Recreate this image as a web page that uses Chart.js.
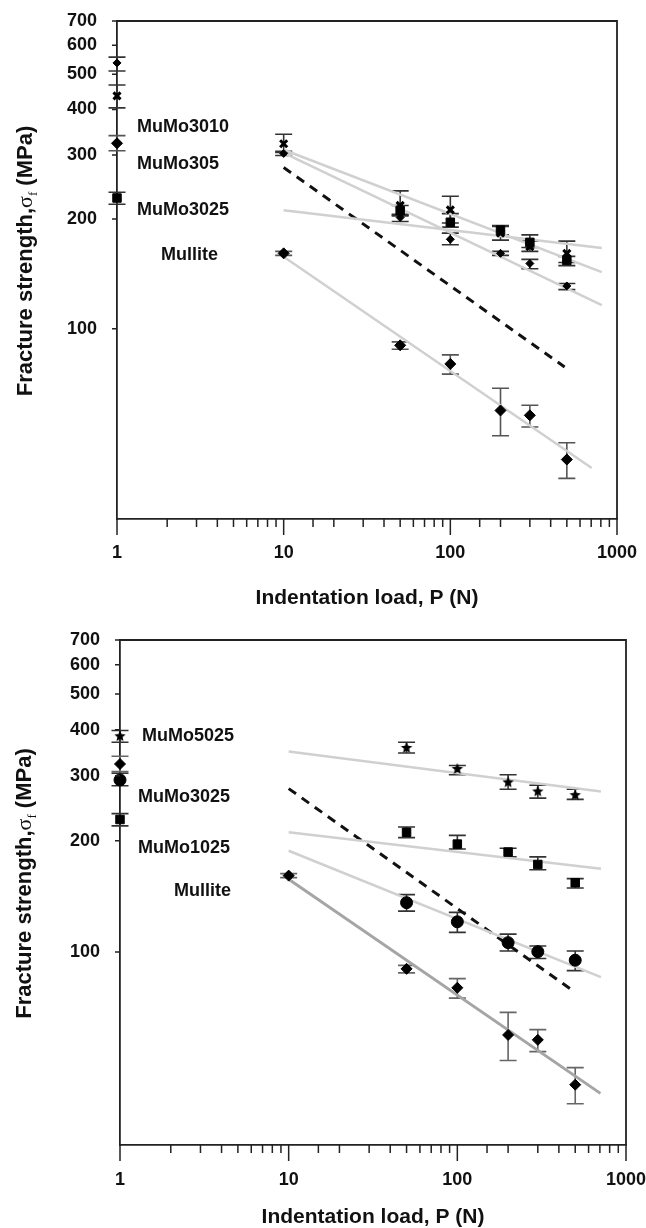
<!DOCTYPE html>
<html>
<head>
<meta charset="utf-8">
<script src="https://cdn.jsdelivr.net/npm/chart.js@4"></script>
<style>
  body { margin: 0; background: #fff; }
  canvas { display: block; }
</style>
</head>
<body>
<canvas id="topChart" width="646" height="620"></canvas>
<canvas id="bottomChart" width="646" height="608"></canvas>
<script>
// indentation loads (N), shared by every series
const loads = [1, 10, 50, 100, 200, 300, 500];

// Mullite (both panels)
const mullite   = [323, 161, 90, 80, 59.6, 57.8, 43.7];
const mulliteHi = [339, 163, 92, 84.7, 68.6, 61.6, 48.6];
const mulliteLo = [308, 159, 87.8, 75, 50.8, 53.7, 38.8];

// MuMo3025 (both panels)
const mumo3025   = [228.5, null, 211, 196, 186.5, 172.6, 154];
const mumo3025Hi = [237, null, 218, 207, 191, 181, 158];
const mumo3025Lo = [219.6, null, 204, 190, 181, 167, 149];

// top panel only
const mumo3010   = [436, 322, 218, 212, 183, 168, 161];
const mumo3010Hi = [467, 342, 239, 231, 192, 174, 174];
const mumo3010Lo = [404, 305, 205, 195, 175, 163, 152];

const mumo305   = [537, 303, 202, 176, 161, 151, 131];
const mumo305Hi = [557, 307, 206, 183, 163, 155, 133];
const mumo305Lo = [510, 299, 197, 170, 159, 146, 128];

// bottom panel only
const mumo5025   = [384, null, 357, 313, 288, 272, 266];
const mumo5025Hi = [398, null, 370, 320, 302, 283, 276];
const mumo5025Lo = [370, null, 346, 302, 276, 261, 259];

const mumo1025   = [292.5, null, 136, 120.7, 106, 100.2, 95];
const mumo1025Hi = [305, null, 143, 128, 111.8, 103.8, 100.6];
const mumo1025Lo = [282, null, 129, 113, 100.6, 96, 89];

// fitted power-law lines (end points)
const fitLoadsTop = [10, 810];
const fit3010 = [310, 143];
const fit305 = [304, 116];
const fit3025Top = [211.6, 166.6];
const fitLoadsBottom = [10, 710];
const fit5025 = [349, 272];
const fit3025 = [211, 168];
const fit1025 = [188, 85.5];
const fitLoadsMullite = [10, 705];
const fitMullite = [157.5, 41.4];
const dashLoads = [10, 485];
const dashLine = [277, 78.5];

// axis ticks and labels
const xTickLabels = [1, 10, 100, 1000];
const yTickLabels = [100, 200, 300, 400, 500, 600, 700];
const topLabels = ['MuMo3010', 'MuMo305', 'MuMo3025', 'Mullite'];
const bottomLabels = ['MuMo5025', 'MuMo3025', 'MuMo1025', 'Mullite'];

const FONT = '"Liberation Sans", Arial, Helvetica, sans-serif';

function toXY(xs, ys) {
  return xs.map((x, i) => ({ x: x, y: ys[i] })).filter(p => p.y != null);
}

// filled five point star used as a marker
function starMarker(r) {
  const c = document.createElement('canvas');
  c.width = c.height = r * 2 + 2;
  const g = c.getContext('2d');
  g.fillStyle = '#000';
  g.beginPath();
  for (let i = 0; i < 10; i++) {
    const rad = i % 2 ? r * 0.45 : r;
    const a = -Math.PI / 2 + i * Math.PI / 5;
    g.lineTo(c.width / 2 + rad * Math.cos(a), c.height / 2 + rad * Math.sin(a));
  }
  g.closePath();
  g.fill();
  return c;
}

function pointSet(values, hi, lo, style, radius, extra) {
  return Object.assign({
    data: toXY(loads, values),
    errHi: hi,
    errLo: lo,
    barColor: '#333',
    pointStyle: style,
    pointRadius: radius,
    backgroundColor: '#000',
    borderColor: '#000',
    borderWidth: 1,
    showLine: false,
    clip: false,
    order: 0
  }, extra || {});
}

function lineSet(xs, ys, color, width, dash) {
  return {
    data: toXY(xs, ys),
    showLine: true,
    pointRadius: 0,
    borderColor: color,
    borderWidth: width,
    borderDash: dash || [],
    fill: false,
    order: 1
  };
}

// error bars under the markers
const errorBars = {
  id: 'errorBars',
  beforeDatasetsDraw(chart) {
    const { ctx, scales: { x, y } } = chart;
    ctx.save();
    chart.data.datasets.forEach(ds => {
      if (!ds.errHi) return;
      ctx.strokeStyle = ds.barColor;
      ctx.lineWidth = 1.6;
      loads.forEach((p, i) => {
        if (ds.errHi[i] == null) return;
        const px = x.getPixelForValue(p);
        const top = y.getPixelForValue(ds.errHi[i]);
        const bot = y.getPixelForValue(ds.errLo[i]);
        ctx.beginPath();
        ctx.moveTo(px, top); ctx.lineTo(px, bot);
        ctx.moveTo(px - 8.5, top); ctx.lineTo(px + 8.5, top);
        ctx.moveTo(px - 8.5, bot); ctx.lineTo(px + 8.5, bot);
        ctx.stroke();
      });
    });
    ctx.restore();
  }
};

// frame, tick marks, y title and series names
const panelDecor = {
  id: 'panelDecor',
  afterDraw(chart, args, opts) {
    const { ctx, chartArea: a, scales: { x, y } } = chart;
    ctx.save();
    ctx.strokeStyle = '#222';
    ctx.lineWidth = 1.8;
    ctx.beginPath();
    ctx.moveTo(a.left, a.top);
    ctx.lineTo(a.right, a.top);
    ctx.lineTo(a.right, a.bottom);
    ctx.stroke();

    ctx.lineWidth = 1.5;
    ctx.beginPath();
    x.ticks.forEach(t => {
      const px = x.getPixelForValue(t.value);
      const len = xTickLabels.includes(t.value) ? 16 : 8;
      ctx.moveTo(px, a.bottom);
      ctx.lineTo(px, a.bottom + len);
    });
    yTickLabels.forEach(v => {
      const py = y.getPixelForValue(v);
      ctx.moveTo(a.left - 5, py);
      ctx.lineTo(a.left, py);
    });
    ctx.stroke();

    // y axis title with subscript
    const parts = [
      { t: 'Fracture strength,', f: 'bold 22px ' + FONT, dy: 8 },
      { t: '\u03c3', f: '22px "Liberation Serif", serif', dy: 8 },
      { t: 'f', f: '13px "Liberation Serif", serif', dy: 13 },
      { t: ' (MPa)', f: 'bold 22px ' + FONT, dy: 8 }
    ];
    let total = 0;
    parts.forEach(p => { ctx.font = p.f; p.w = ctx.measureText(p.t).width; total += p.w; });
    ctx.translate(opts.titleX, (a.top + a.bottom) / 2 - 9);
    ctx.rotate(-Math.PI / 2);
    ctx.fillStyle = '#111';
    ctx.textBaseline = 'alphabetic';
    let cx = -total / 2;
    parts.forEach(p => {
      ctx.font = p.f;
      ctx.fillText(p.t, cx, p.dy);
      cx += p.w;
    });
    ctx.setTransform(1, 0, 0, 1, 0, 0);

    // series names
    ctx.font = 'bold 18px ' + FONT;
    ctx.textBaseline = 'middle';
    ctx.textAlign = 'left';
    opts.names.forEach((name, i) => {
      const at = opts.nameAt[i];
      ctx.fillText(name, a.left + at[0], y.getPixelForValue(at[1]));
    });
    ctx.restore();
  }
};

// stop the axes from asking the layout for extra room around the plot
function noScalePadding(s) {
  s.paddingTop = 0;
  s.paddingBottom = 0;
  s.paddingLeft = 0;
  s.paddingRight = 0;
}

function makeChart(id, datasets, cfg) {
  const tickFont = { family: FONT, size: 18, weight: 'bold' };
  return new Chart(document.getElementById(id), {
    type: 'scatter',
    data: { datasets: datasets },
    plugins: [errorBars, panelDecor],
    options: {
      responsive: false,
      animation: false,
      events: [],
      layout: { padding: { top: cfg.top, right: cfg.right, left: 0, bottom: 0 } },
      plugins: {
        legend: { display: false },
        tooltip: { enabled: false },
        panelDecor: { names: cfg.names, nameAt: cfg.nameAt, titleX: cfg.titleX }
      },
      scales: {
        x: {
          type: 'logarithmic',
          min: 1,
          max: 1000,
          grid: { display: false, drawTicks: false },
          border: { display: true, color: '#222', width: 1.8 },
          ticks: {
            autoSkip: false,
            maxRotation: 0,
            minRotation: 0,
            padding: cfg.xTickPad,
            color: '#111',
            font: tickFont,
            callback: v => xTickLabels.includes(v) ? String(v) : ''
          },
          title: {
            display: true,
            text: 'Indentation load, P (N)',
            color: '#111',
            font: { family: FONT, size: 21, weight: 'bold', lineHeight: 1 },
            padding: { top: 0, bottom: cfg.xTitlePad }
          },
          afterFit: s => { s.height = cfg.xHeight; noScalePadding(s); }
        },
        y: {
          type: 'logarithmic',
          min: 30,
          max: 700,
          grid: { display: false, drawTicks: false },
          border: { display: true, color: '#222', width: 1.8 },
          ticks: {
            autoSkip: false,
            padding: 20,
            color: '#111',
            font: tickFont,
            callback: v => yTickLabels.includes(v) ? String(v) : ''
          },
          afterFit: s => { s.width = cfg.yWidth; noScalePadding(s); }
        }
      }
    }
  });
}

const lightGray = '#d0d0d0';

// top panel
makeChart('topChart', [
  pointSet(mullite, mulliteHi, mulliteLo, 'rectRot', 5.5, { barColor: '#555' }),
  pointSet(mumo3025, mumo3025Hi, mumo3025Lo, 'rect', 6),
  pointSet(mumo3010, mumo3010Hi, mumo3010Lo, 'crossRot', 5, { borderWidth: 3 }),
  pointSet(mumo305, mumo305Hi, mumo305Lo, 'rectRot', 4),
  lineSet(fitLoadsTop, fit3010, lightGray, 2.5),
  lineSet(fitLoadsTop, fit305, lightGray, 2.5),
  lineSet(fitLoadsTop, fit3025Top, lightGray, 2.5),
  lineSet(fitLoadsMullite, fitMullite, lightGray, 2.5),
  lineSet(dashLoads, dashLine, '#111', 3, [9, 7])
], {
  top: 21, right: 29, yWidth: 117, xHeight: 101, xTickPad: 23, xTitlePad: 11.5, titleX: 24,
  names: topLabels,
  nameAt: [[20, 357], [20, 283], [20, 211.6], [44, 159.6]]
});

// bottom panel
makeChart('bottomChart', [
  pointSet(mullite, mulliteHi, mulliteLo, 'rectRot', 5.5, { barColor: '#666' }),
  pointSet(mumo3025, mumo3025Hi, mumo3025Lo, 'rect', 6),
  pointSet(mumo1025, mumo1025Hi, mumo1025Lo, 'circle', 6),
  pointSet(mumo5025, mumo5025Hi, mumo5025Lo, starMarker(6), 6),
  lineSet(fitLoadsBottom, fit5025, lightGray, 2.5),
  lineSet(fitLoadsBottom, fit3025, lightGray, 2.5),
  lineSet(fitLoadsBottom, fit1025, lightGray, 2.5),
  lineSet(fitLoadsMullite, fitMullite, '#a5a5a5', 3),
  lineSet(dashLoads, dashLine, '#111', 3, [9, 7])
], {
  top: 20, right: 20, yWidth: 120, xHeight: 83, xTickPad: 24, xTitlePad: 0.5, titleX: 23,
  names: bottomLabels,
  nameAt: [[22, 384], [18, 263], [18, 191], [54, 146]]
});
</script>
</body>
</html>
